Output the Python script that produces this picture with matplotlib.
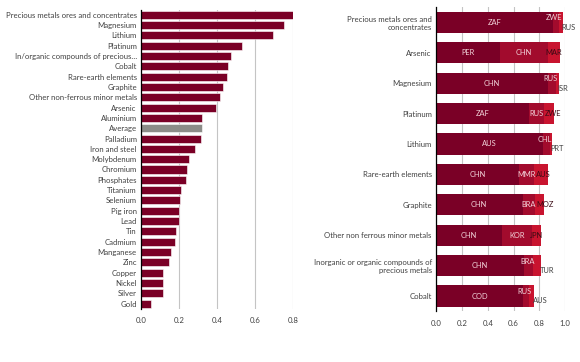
import numpy as np
import matplotlib.pyplot as plt

plt.rcParams['font.family'] = ['Lato', 'DejaVu Sans']

# left panel
metals = ['Precious metals ores and concentrates', 'Magnesium', 'Lithium', 'Platinum',
          'In/organic compounds of precious\u2026', 'Cobalt', 'Rare-earth elements', 'Graphite',
          'Other non-ferrous minor metals', 'Arsenic', 'Aluminium', 'Average', 'Palladium',
          'Iron and steel', 'Molybdenum', 'Chromium', 'Phosphates', 'Titanium', 'Selenium',
          'Pig iron', 'Lead', 'Tin', 'Cadmium', 'Manganese', 'Zinc', 'Copper', 'Nickel',
          'Silver', 'Gold']
conc = [0.800, 0.749, 0.691, 0.529, 0.474, 0.459, 0.453, 0.429, 0.413, 0.394, 0.322,
        0.320, 0.313, 0.282, 0.252, 0.243, 0.238, 0.210, 0.207, 0.200, 0.198, 0.186,
        0.180, 0.159, 0.149, 0.117, 0.117, 0.114, 0.051]

# right panel
products = ['Precious metals ores and\nconcentrates', 'Arsenic', 'Magnesium', 'Platinum',
            'Lithium', 'Rare-earth elements', 'Graphite', 'Other non ferrous minor metals',
            'Inorganic or organic compounds of\nprecious metals', 'Cobalt']
c1 = ['ZAF', 'PER', 'CHN', 'ZAF', 'AUS', 'CHN', 'CHN', 'CHN', 'CHN', 'COD']
c2 = ['ZWE', 'CHN', 'RUS', 'RUS', 'CHL', 'MMR', 'BRA', 'KOR', 'BRA', 'RUS']
c3 = ['RUS', 'MAR', 'ISR', 'ZWE', 'PRT', 'AUS', 'MOZ', 'JPN', 'TUR', 'AUS']
s1 = [0.902, 0.497, 0.866, 0.719, 0.825, 0.644, 0.670, 0.510, 0.680, 0.675]
s2 = [0.049, 0.369, 0.062, 0.119, 0.056, 0.114, 0.095, 0.232, 0.073, 0.047]
s3 = [0.031, 0.093, 0.020, 0.077, 0.016, 0.108, 0.073, 0.072, 0.061, 0.036]

dark = '#7a0026'
mid = '#a20b2d'
bright = '#c8142f'
grid_c = '#c4c4c4'
txt_c = '#404040'

fig = plt.figure(figsize=(5.8, 3.62), dpi=100)

ax1 = fig.add_axes([0.2431, 0.1473, 0.2626, 0.826])
y = np.arange(len(metals))
cols = ['#8c8c88' if m == 'Average' else dark for m in metals]
ax1.barh(y, conc, height=0.78, color=cols, edgecolor='white', linewidth=0.4, zorder=3)
ax1.set_yticks(y)
ax1.set_yticklabels(metals, fontsize=5.6, color=txt_c)
ax1.set_ylim(len(metals) - 0.5, -0.5)
ax1.set_xlim(0, 0.8)
ax1.set_xticks([0, 0.2, 0.4, 0.6, 0.8])
ax1.set_xticklabels(['0.0', '0.2', '0.4', '0.6', '0.8'])

ax2 = fig.add_axes([0.7517, 0.1403, 0.2229, 0.840])
y2 = np.arange(len(products))
ax2.barh(y2, s1, height=0.7, color=dark, zorder=3)
ax2.barh(y2, s2, left=s1, height=0.7, color=mid, zorder=3)
left3 = np.array(s1) + np.array(s2)
ax2.barh(y2, s3, left=left3, height=0.7, color=bright, zorder=3)
ax2.set_yticks(y2)
ax2.set_yticklabels(products, fontsize=5.6, color=txt_c)
ax2.set_ylim(len(products) - 0.5, -0.5)
ax2.set_xlim(0, 1.0)
ax2.set_xticks([0, 0.2, 0.4, 0.6, 0.8, 1.0])
ax2.set_xticklabels(['0.0', '0.2', '0.4', '0.6', '0.8', '1.0'])

light = '#f2d4da'
fs = 5.4
for i in range(len(products)):
    ax2.text(s1[i] / 2, i, c1[i], ha='center', va='center', fontsize=fs, color=light, zorder=4)
    m2 = s1[i] + s2[i] / 2
    m3 = left3[i] + s3[i] / 2
    end = left3[i] + s3[i]
    if m3 - m2 < 0.075:
        # crowded: push the small labels apart
        ax2.text(m2 - 0.01, i - 0.15, c2[i], ha='center', va='center', fontsize=fs, color=light, zorder=4)
        ax2.text(end - 0.01, i + 0.16, c3[i], ha='left', va='center', fontsize=fs, color=txt_c, zorder=4)
    else:
        ax2.text(m2, i, c2[i], ha='center', va='center', fontsize=fs, color=light, zorder=4)
        ax2.text(max(m3, m2 + 0.13), i, c3[i], ha='center', va='center', fontsize=fs,
                 color='#3a0a14', zorder=4)

for ax in (ax1, ax2):
    for s in ['top', 'right', 'bottom']:
        ax.spines[s].set_visible(False)
    ax.spines['left'].set_color('black')
    ax.spines['left'].set_linewidth(0.9)
    ax.spines['left'].set_zorder(5)
    ax.grid(axis='x', color=grid_c, linewidth=0.8, zorder=0)
    ax.tick_params(axis='both', length=0, labelsize=5.6, colors=txt_c, pad=3)
    ax.tick_params(axis='x', pad=6)

fig.savefig('out.png', dpi=100)
